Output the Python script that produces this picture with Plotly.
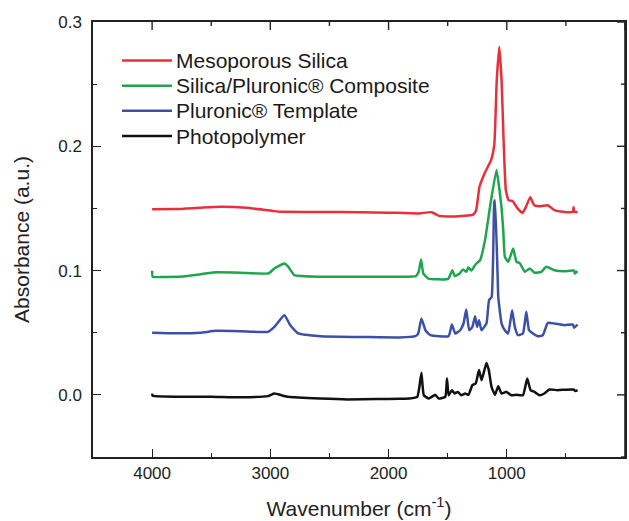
import plotly.graph_objects as go

# ---- Data (wavenumber in cm^-1, absorbance in a.u.) ----
series_names = ["Mesoporous Silica", "Silica/Pluronic® Composite", "Pluronic® Template", "Photopolymer"]
series_colors = ["#E8303A", "#1DA64E", "#3D50A5", "#111111"]

silica_x = [4000, 3800, 3600, 3424, 3200, 2980, 2920, 2600, 2244, 2000, 1740, 1636, 1572, 1437, 1285,
            1259, 1231, 1189, 1133, 1105, 1085, 1063, 1044, 1027, 1008, 985, 951, 909, 867, 839, 802,
            768, 712, 653, 597, 513, 440, 435, 430, 401]
silica_y = [0.1494, 0.1495, 0.1505, 0.1513, 0.1505, 0.1480, 0.1473, 0.1472, 0.1470, 0.1466, 0.1460, 0.1470,
            0.1440, 0.1435, 0.1450, 0.1486, 0.1674, 0.1780, 0.1888, 0.2020, 0.2530, 0.2800, 0.2530, 0.2050,
            0.1647, 0.1566, 0.1560, 0.1500, 0.1464, 0.1510, 0.1590, 0.1526, 0.1518, 0.1526, 0.1486, 0.1472,
            0.1472, 0.1510, 0.1472, 0.1472]

composite_x = [4000, 3995, 3900, 3765, 3600, 3488, 3252, 3016, 2966, 2881, 2847, 2797, 2578, 2200, 1904,
               1769, 1745, 1725, 1706, 1664, 1496, 1460, 1440, 1398, 1370, 1342, 1326, 1300, 1263, 1226,
               1184, 1142, 1087, 1045, 1030, 1016, 988, 946, 918, 890, 848, 806, 764, 708, 666, 597,
               513, 429, 425, 401]
composite_y = [0.0998, 0.0950, 0.0949, 0.0950, 0.0968, 0.0985, 0.0983, 0.0977, 0.1017, 0.1057, 0.1030, 0.0963,
               0.0950, 0.0950, 0.0950, 0.0955, 0.0990, 0.1090, 0.0977, 0.0936, 0.0933, 0.1003, 0.0955, 0.0977,
               0.1009, 0.0990, 0.1025, 0.1000, 0.1051, 0.1083, 0.1245, 0.1510, 0.1810, 0.1510, 0.1325, 0.1110,
               0.1070, 0.1178, 0.1070, 0.1060, 0.0990, 0.1017, 0.0982, 0.0990, 0.1030, 0.1003, 0.0995, 0.1000,
               0.0975, 0.0995]

template_x = [4000, 3800, 3592, 3458, 3200, 3020, 2966, 2881, 2831, 2764, 2578, 2200, 1907, 1773, 1750,
              1722, 1688, 1646, 1492, 1464, 1436, 1394, 1366, 1343, 1318, 1291, 1268, 1251, 1235, 1214,
              1172, 1150, 1128, 1106, 1100, 1078, 1072, 1044, 1016, 988, 955, 932, 905, 863, 835, 812,
              779, 737, 695, 653, 597, 513, 440, 430, 401]
template_y = [0.0499, 0.0495, 0.0500, 0.0515, 0.0510, 0.0507, 0.0547, 0.0641, 0.0560, 0.0494, 0.0472, 0.0465,
              0.0462, 0.0472, 0.0490, 0.0615, 0.0520, 0.0480, 0.0472, 0.0566, 0.0494, 0.0520, 0.0574, 0.0687,
              0.0520, 0.0547, 0.0633, 0.0547, 0.0600, 0.0520, 0.0574, 0.0762, 0.0788, 0.1550, 0.1566, 0.0977,
              0.0788, 0.0574, 0.0520, 0.0494, 0.0681, 0.0547, 0.0480, 0.0494, 0.0668, 0.0520, 0.0494, 0.0472,
              0.0480, 0.0579, 0.0574, 0.0561, 0.0566, 0.0540, 0.0566]

photo_x = [4000, 3995, 3725, 3500, 3252, 3020, 2966, 2900, 2847, 2578, 2346, 2100, 1907, 1823, 1757,
           1740, 1722, 1702, 1660, 1604, 1576, 1520, 1506, 1492, 1464, 1442, 1414, 1386, 1352, 1324,
           1291, 1263, 1235, 1213, 1172, 1152, 1129, 1100, 1072, 1045, 1003, 961, 919, 863, 827,
           799, 766, 724, 682, 640, 570, 435, 420, 401]
photo_y = [0.0010, -0.0008, -0.0016, -0.0015, -0.0020, -0.0010, 0.0010, -0.0005, -0.0016, -0.0030, -0.0037,
           -0.0034, -0.0032, -0.0030, -0.0016, 0.0060, 0.0177, -0.0003, -0.0029, 0.0000, -0.0030, -0.0016,
           0.0132, -0.0003, 0.0038, 0.0011, 0.0024, -0.0003, 0.0011, 0.0000, 0.0078, 0.0091, 0.0199, 0.0118,
           0.0257, 0.0199, 0.0064, 0.0000, 0.0070, 0.0011, 0.0024, -0.0003, 0.0000, -0.0003, 0.0132, 0.0038,
           0.0024, -0.0003, 0.0011, 0.0043, 0.0038, 0.0043, 0.0030, 0.0038]

x_tick_vals = [4000, 3000, 2000, 1000, 0]
x_tick_text = ["4000", "3000", "2000", "1000", "0"]
x_minor_vals = [3500, 2500, 1500, 500]
y_tick_vals = [0.0, 0.1, 0.2, 0.3]
y_tick_text = ["0.0", "0.1", "0.2", "0.3"]
y_minor_vals = [-0.05, 0.05, 0.15, 0.25]
x_range = [4500, 0]
y_range = [-0.05, 0.3]

xs = [silica_x, composite_x, template_x, photo_x]
ys = [silica_y, composite_y, template_y, photo_y]

FONT = "Liberation Sans, Arial, sans-serif"

W, H = 629, 521
ML, MR, MT, MB = 93, 4, 22, 64
PW, PH = W - ML - MR, H - MT - MB
MAJ, MIN = 8, 4  # tick lengths in px

fig = go.Figure()
for name, color, x, y in zip(series_names, series_colors, xs, ys):
    fig.add_trace(go.Scatter(x=x, y=y, mode="lines", name=name,
                             line=dict(color=color, width=2.5, shape="spline", smoothing=0.4),
                             showlegend=False))

# manual legend (long line samples as in the original); row centres in px
leg_rows_px = [60.5, 85.7, 110.8, 136.0]
for name, color, row in zip(series_names, series_colors, leg_rows_px):
    yp = 1 - (row - MT) / PH
    fig.add_shape(type="line", xref="paper", yref="paper",
                  x0=(122 - ML) / PW, x1=(172 - ML) / PW, y0=yp, y1=yp,
                  line=dict(color=color, width=2.5))
    fig.add_annotation(xref="paper", yref="paper", x=(173.5 - ML) / PW, y=yp,
                       text=name, showarrow=False, xanchor="left", yanchor="middle",
                       font=dict(family=FONT, size=21, color="#1a1a1a"))

AX = "#222"
# frame: right edge line plus the mirrored (top / right) tick marks, taken from the tick arrays
fig.add_shape(type="line", xref="paper", yref="paper", x0=1, x1=1, y0=0, y1=1,
              line=dict(color=AX, width=1.6), layer="above")
for vals, ln in ((x_tick_vals, MAJ), (x_minor_vals, MIN)):
    for v in vals:
        fig.add_shape(type="line", xref="x", yref="paper", x0=v, x1=v, y0=1, y1=1 - ln / PH,
                      line=dict(color=AX, width=1.4), layer="above")
for vals, ln in ((y_tick_vals, MAJ), (y_minor_vals, MIN)):
    for v in vals:
        fig.add_shape(type="line", xref="paper", yref="y", x0=1, x1=1 - ln / PW, y0=v, y1=v,
                      line=dict(color=AX, width=1.4), layer="above")

tick_common = dict(showline=True, linecolor=AX, linewidth=1.5, mirror=True,
                   ticks="inside", ticklen=MAJ, tickwidth=1.3, tickcolor=AX,
                   showgrid=False, zeroline=False, automargin=False,
                   tickfont=dict(family=FONT, size=17, color=AX))
minor_common = dict(ticks="inside", ticklen=MIN, tickwidth=1.3, tickcolor=AX)

fig.update_layout(
    xaxis=dict(range=x_range, tickvals=x_tick_vals, ticktext=x_tick_text,
               minor=dict(tickvals=x_minor_vals, **minor_common),
               ticklabelstandoff=0,
               title=dict(text="Wavenumber (cm<sup>-1</sup>)", standoff=19,
                          font=dict(family=FONT, size=21, color=AX)),
               **tick_common),
    yaxis=dict(range=y_range, tickvals=y_tick_vals, ticktext=y_tick_text,
               minor=dict(tickvals=y_minor_vals, **minor_common),
               ticklabelstandoff=6,
               title=dict(text="Absorbance (a.u.)", standoff=23,
                          font=dict(family=FONT, size=21, color=AX)),
               **tick_common),
    width=W, height=H, margin=dict(l=ML, r=MR, t=MT, b=MB),
    paper_bgcolor="white", plot_bgcolor="white", showlegend=False,
)

# remove the browser's default 8px page margin so the figure fills the window
fig.write_html("out.html", config={"displayModeBar": False},
               post_script="document.body.style.margin='0';document.body.style.overflow='hidden';")
